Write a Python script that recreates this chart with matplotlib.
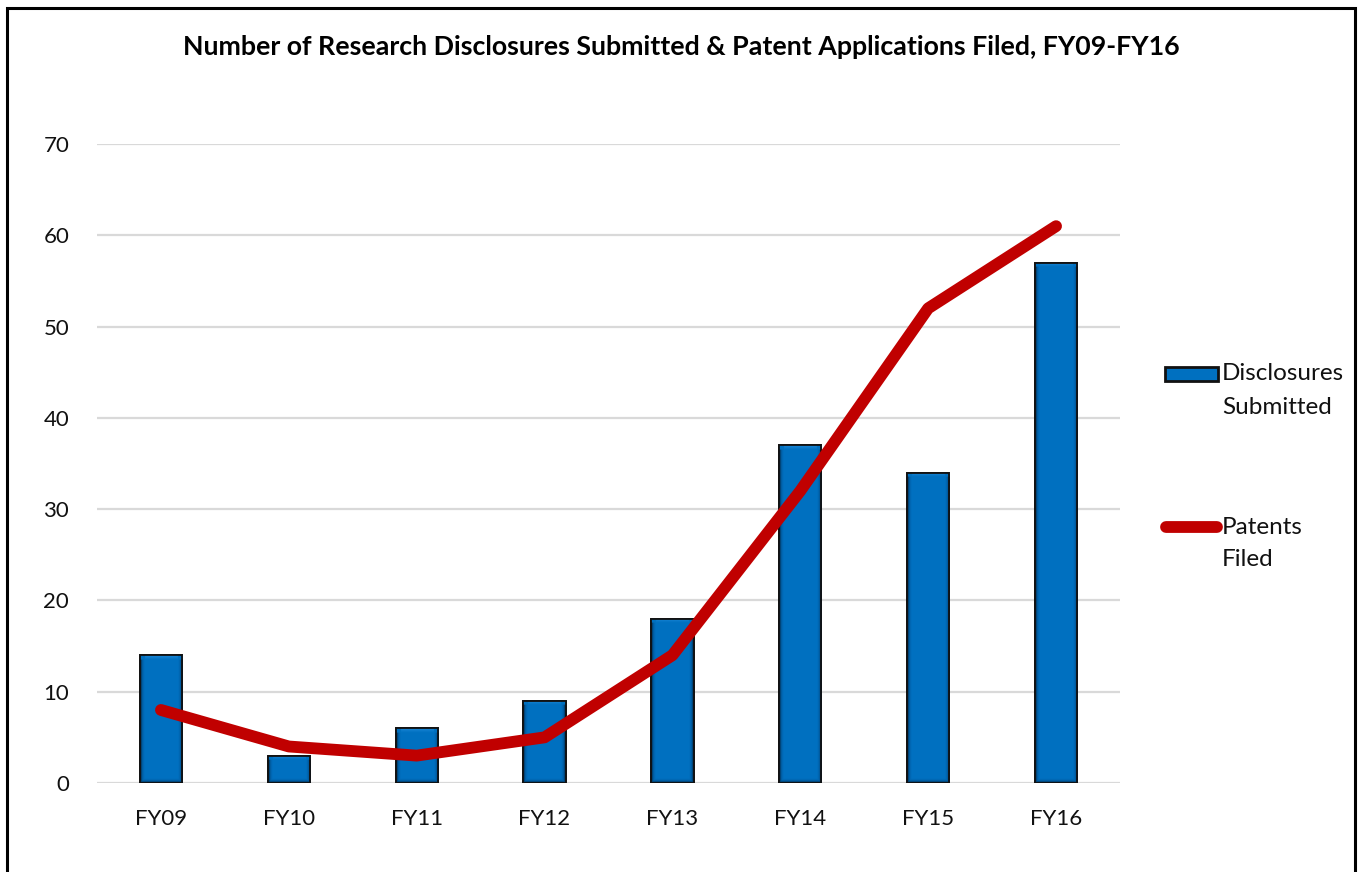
import numpy as np
import matplotlib
matplotlib.use("Agg")
import matplotlib.pyplot as plt
from matplotlib.patches import Rectangle
from matplotlib.lines import Line2D
from matplotlib.colors import LinearSegmentedColormap

plt.rcParams['font.family'] = ['Lato', 'DejaVu Sans']

# data
years = ['FY09', 'FY10', 'FY11', 'FY12', 'FY13', 'FY14', 'FY15', 'FY16']
disclosures = [14, 3, 6, 9, 18, 37, 34, 57]
patents = [8, 4, 3, 5, 14, 32, 52, 61]

bar_blue = '#0070C0'
line_red = '#C00000'

fig = plt.figure(figsize=(13.59, 8.72), dpi=100)
ax = fig.add_axes([97 / 1359, 89 / 872, 1023 / 1359, 639 / 872])

x = np.arange(len(years))
bar_w = 0.33
bars = ax.bar(x, disclosures, width=bar_w, color=bar_blue,
              edgecolor='#111111', linewidth=1.3, zorder=2)

# bevel shading inside each bar (darker sides and bottom, lighter top)
bevel = LinearSegmentedColormap.from_list('bevel', ['#002a4a', '#0060a8', bar_blue, '#1a86d6'])
for rect in bars:
    bx, by = rect.get_x(), rect.get_y()
    bw, bh = rect.get_width(), rect.get_height()
    nx, ny = 60, max(int(bh * 10), 10)
    xs = np.linspace(0, bw, nx)
    ys = np.linspace(0, bh, ny)
    X, Y = np.meshgrid(xs, ys)
    side = np.minimum(X, bw - X) / 0.035
    bottom = Y / 0.45
    top = (bh - Y) / 0.45
    val = np.clip(np.minimum(side, bottom), 0, 1) * 0.67
    val = np.where(top < 1, np.maximum(val, 0.67 + (1 - np.clip(top, 0, 1)) * 0.33 * (side > 1)), val)
    im = ax.imshow(val, extent=(bx, bx + bw, by, by + bh), origin='lower',
                   cmap=bevel, vmin=0, vmax=1, aspect='auto', zorder=2.1,
                   interpolation='bilinear')
    im.set_clip_path(rect)
    ax.add_patch(Rectangle((bx, by), bw, bh, fill=False, edgecolor='#111111',
                           linewidth=1.3, zorder=2.2))

ax.plot(x, patents, color=line_red, linewidth=8.5, solid_capstyle='round',
        solid_joinstyle='round', zorder=3)

ax.set_xlim(-0.5, len(years) - 0.5)
ax.set_ylim(0, 70)
ax.set_yticks(range(0, 71, 10))
ax.set_xticks(x)
ax.set_xticklabels(years)
ax.tick_params(axis='both', length=0, labelsize=16, colors='#111111')
ax.tick_params(axis='y', pad=20)
ax.tick_params(axis='x', pad=19)
ax.grid(axis='y', color='#D9D9D9', linewidth=1.6, zorder=0)
ax.set_axisbelow(True)
for s in ax.spines.values():
    s.set_visible(False)

fig.text(681 / 1359, 1 - 47 / 872,
         'Number of Research Disclosures Submitted & Patent Applications Filed, FY09-FY16',
         ha='center', va='center', fontsize=19.3, fontweight='bold')

# legend drawn by hand so the handles sit on the first text line
fig.patches.append(Rectangle((1165 / 1359, 1 - 381 / 872), 53 / 1359, 14 / 872,
                             transform=fig.transFigure, facecolor=bar_blue,
                             edgecolor='#111111', linewidth=2))
fig.lines.append(Line2D([1166 / 1359, 1217 / 1359], [1 - 527 / 872] * 2,
                        transform=fig.transFigure, color=line_red, linewidth=8.5,
                        solid_capstyle='round'))
for label, yy in [('Disclosures', 374), ('Submitted', 407), ('Patents', 527), ('Filed', 559)]:
    fig.text(1222 / 1359, 1 - yy / 872, label, ha='left', va='center',
             fontsize=17.5, color='#111111')

# outer frame
fig.patches.append(Rectangle((7 / 1359, -0.02), 1348 / 1359, 1.02 - 8 / 872,
                             transform=fig.transFigure, fill=False,
                             edgecolor='black', linewidth=2.2))

fig.savefig('out.png', dpi=100)
